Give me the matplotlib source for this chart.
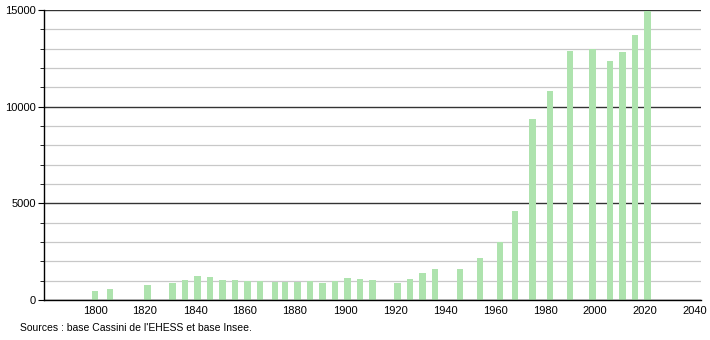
import matplotlib
matplotlib.use("Agg")
import matplotlib.pyplot as plt
from matplotlib.ticker import MultipleLocator

years = [1800, 1806, 1821, 1831, 1836, 1841, 1846, 1851, 1856, 1861, 1866,
         1872, 1876, 1881, 1886, 1891, 1896, 1901, 1906, 1911, 1921, 1926,
         1931, 1936, 1946, 1954, 1962, 1968, 1975, 1982, 1990, 1999, 2006,
         2011, 2016, 2021]
population = [470, 590, 780, 880, 1050, 1245, 1190, 1055, 1035, 985, 985,
              950, 950, 950, 985, 880, 985, 1140, 1070, 1055, 880, 1105,
              1415, 1625, 1625, 2195, 2990, 4580, 9380, 10830, 12870, 12980, 12340,
              12820, 13690, 14930]
x_ticks = [1800, 1820, 1840, 1860, 1880, 1900, 1920, 1940, 1960, 1980, 2000, 2020, 2040]
y_ticks = [0, 5000, 10000, 15000]
source_text = "Sources : base Cassini de l'EHESS et base Insee."

plt.rcParams['font.family'] = ['Liberation Sans', 'DejaVu Sans']

fig = plt.figure(figsize=(7.1, 3.4), dpi=100)
ax = fig.add_axes([44/710, 1 - 300/340, (701 - 44)/710, 290/340])

ax.set_xlim(1779.6, 2042.4)
ax.set_ylim(0, 15000)

ax.yaxis.set_minor_locator(MultipleLocator(1000))
ax.set_yticks(y_ticks)
ax.grid(which='minor', axis='y', color='#c8c8c8', linewidth=0.9, zorder=0)
ax.grid(which='major', axis='y', color='#333333', linewidth=1.0, zorder=0)

ax.bar(years, population, width=2.8, color='#aee3ae', zorder=2, linewidth=0)

ax.set_xticks(x_ticks)
ax.set_xticklabels([str(t) for t in x_ticks])
ax.tick_params(axis='x', length=0, labelsize=8, pad=4)
ax.tick_params(axis='y', which='major', length=4, labelsize=8, pad=2, direction='out')
ax.tick_params(axis='y', which='minor', length=3, direction='out')

for s in ['top', 'right']:
    ax.spines[s].set_visible(False)
ax.spines['left'].set_color('black')
ax.spines['bottom'].set_color('black')
ax.spines['left'].set_linewidth(1.0)
ax.spines['bottom'].set_linewidth(1.0)

fig.text(20/710, 1 - 328/340, source_text, fontsize=7.5, va='center', ha='left')

fig.savefig("out.png", dpi=100)
